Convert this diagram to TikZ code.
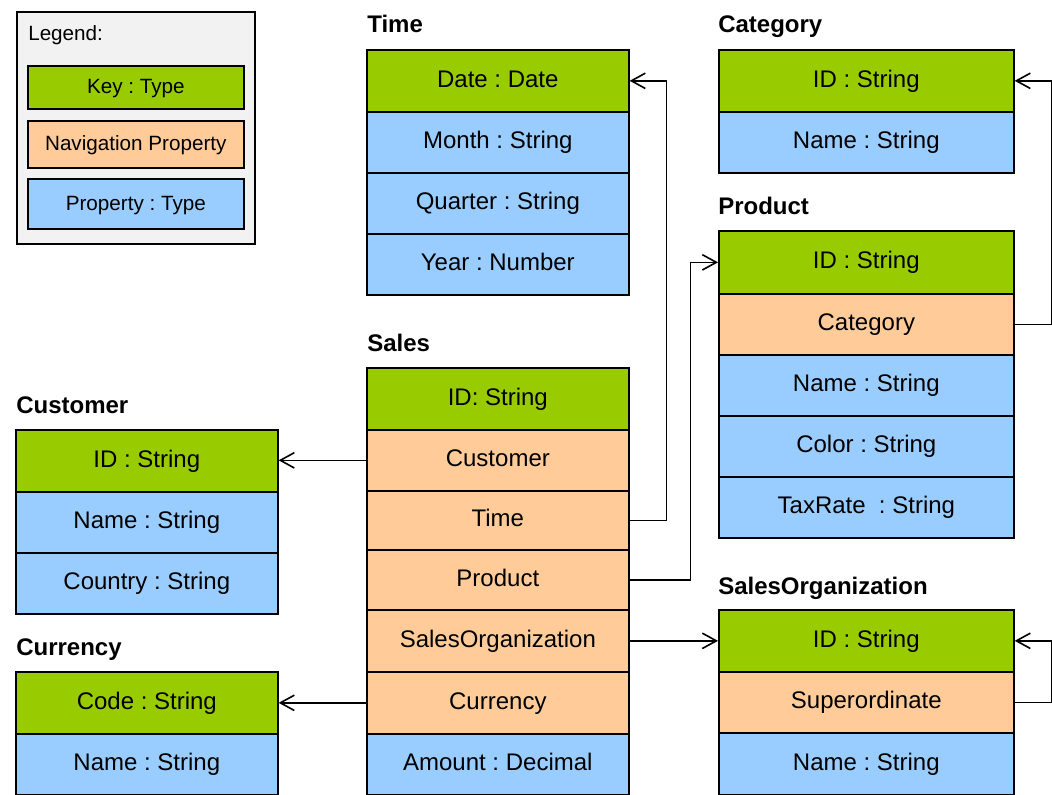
\documentclass[tikz,border=0pt]{standalone}
\usepackage{fontspec}
\setmainfont{Liberation Sans}
\usetikzlibrary{arrows.meta}
\frenchspacing
\definecolor{keyc}{HTML}{99CC00}
\definecolor{navc}{HTML}{FFCC99}
\definecolor{propc}{HTML}{99CCFF}
\definecolor{legc}{HTML}{F2F2F2}
\tikzset{
  cell/.style={draw=black, line width=1.25pt, anchor=north west, inner sep=0pt,
    font=\fontsize{18}{20}\selectfont, text height=1.1em, text depth=0.14em},
  keycell/.style={cell, fill=keyc},
  navcell/.style={cell, fill=navc},
  propcell/.style={cell, fill=propc},
  wA/.style={minimum width=196.5pt},
  wB/.style={minimum width=221.25pt},
  wL/.style={minimum width=162pt},
  h/.style={minimum height=#1*0.75pt},
  title/.style={anchor=base west, inner sep=0pt, font=\fontsize{18}{20}\selectfont\bfseries},
  legtxt/.style={font=\fontsize{15.5}{18}\selectfont},
  conn/.style={draw=black, line width=1.2pt, -{Straight Barb[length=10.5pt,width=11.5pt,line width=1.2pt]}},
}
\begin{document}
\begin{tikzpicture}[x=0.75pt,y=-0.75pt]
\useasboundingbox (0,0) rectangle (1052,795);
% Legend
\node[draw=black, line width=1.25pt, fill=legc, anchor=north west, inner sep=0pt,
  minimum width=178.5pt, minimum height=174pt] (legend) at (16,11) {};
\node[anchor=base west, inner sep=0pt, legtxt] (legtitle) at (28,41) {Legend:};
\node[keycell, wL, h=43, legtxt] (lkey) at (27,65) {Key : Type};
\node[navcell, wL, h=47, legtxt] (lnav) at (27,120) {Navigation Property};
\node[propcell, wL, h=50, legtxt] (lprop) at (27,178) {Property : Type};

% Time
\node[title] (ttime) at (367,33) {Time};
\node[keycell, wA, h=62] (t-date) at (366,49) {Date : Date};
\node[propcell, wA, h=61] (t-month) at (366,111) {Month : String};
\node[propcell, wA, h=61] (t-quarter) at (366,172) {Quarter : String};
\node[propcell, wA, h=61] (t-year) at (366,233) {Year : Number};

% Category
\node[title] (tcat) at (718,33) {Category};
\node[keycell, wB, h=62] (cat-id) at (718,49) {ID : String};
\node[propcell, wB, h=61] (cat-name) at (718,111) {Name : String};

% Product
\node[title] (tprod) at (718,214) {Product};
\node[keycell, wB, h=63] (p-id) at (718,230) {ID : String};
\node[navcell, wB, h=61] (p-cat) at (718,293) {Category};
\node[propcell, wB, h=61] (p-name) at (718,354) {Name : String};
\node[propcell, wB, h=61] (p-color) at (718,415) {Color : String};
\node[propcell, wB, h=61] (p-tax) at (718,476) {TaxRate~ : String};

% Sales
\node[title] (tsales) at (367,351) {Sales};
\node[keycell, wA, h=62] (s-id) at (366,367) {ID: String};
\node[navcell, wA, h=61] (s-cust) at (366,429) {Customer};
\node[navcell, wA, h=59] (s-time) at (366,490) {Time};
\node[navcell, wA, h=60] (s-prod) at (366,549) {Product};
\node[navcell, wA, h=62] (s-so) at (366,609) {SalesOrganization};
\node[navcell, wA, h=62] (s-cur) at (366,671) {Currency};
\node[propcell, wA, h=61] (s-amt) at (366,733) {Amount : Decimal};

% Customer
\node[title] (tcust) at (16,413) {Customer};
\node[keycell, wA, h=62] (c-id) at (15,429) {ID : String};
\node[propcell, wA, h=61] (c-name) at (15,491) {Name : String};
\node[propcell, wA, h=61] (c-country) at (15,552) {Country : String};

% Currency
\node[title] (tcur) at (16,655) {Currency};
\node[keycell, wA, h=62] (cu-code) at (15,671) {Code : String};
\node[propcell, wA, h=61] (cu-name) at (15,733) {Name : String};

% SalesOrganization
\node[title] (tso) at (718,594) {SalesOrganization};
\node[keycell, wB, h=62] (so-id) at (718,609) {ID : String};
\node[navcell, wB, h=61] (so-sup) at (718,671) {Superordinate};
\node[propcell, wB, h=62] (so-name) at (718,732) {Name : String};

% Connectors
\draw[conn] (s-cust.west) -- (s-cust.west -| c-id.east);
\draw[conn] (s-cur.west) -- (s-cur.west -| cu-code.east);
\draw[conn] (s-time.east) -- ++(37,0) |- (t-date.east);
\draw[conn] (s-prod.east) -- ++(61,0) |- (p-id.west);
\draw[conn] (s-so.east) -- (s-so.east -| so-id.west);
\draw[conn] (p-cat.east) -- ++(37,0) |- (cat-id.east);
\draw[conn] (so-sup.east) -- ++(37,0) |- (so-id.east);
\end{tikzpicture}
\end{document}
